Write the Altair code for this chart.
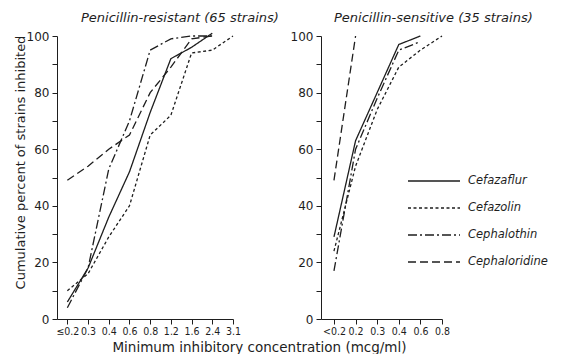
import json
import altair as alt
import pandas as pd

# ---------------- data ----------------
series = ["Cefazaflur", "Cefazolin", "Cephalothin", "Cephaloridine"]

left_ticks = ["≤0.2", "0.3", "0.4", "0.6", "0.8", "1.2", "1.6", "2.4", "3.1"]
right_ticks = ["<0.2", "0.2", "0.3", "0.4", "0.6", "0.8"]

left_cefazaflur = [6, 18, 36, 52, 73, 92, 96, 101]
left_cefazolin = [10, 16, 29, 40, 65, 72, 94, 95, 100]
left_cephalothin = [4, 18, 53, 70, 95, 99, 100, 100]
left_cephaloridine = [49, 54, 60, 65, 80, 89, 99, 100]

right_cefazaflur = [29, 63, 80, 97, 100]
right_cefazolin = [24, 54, 74, 89, 95, 100]
right_cephalothin = [17, 60, 78, 95, 98]
right_cephaloridine = [49, 100]

left_title = "Penicillin-resistant (65 strains)"
right_title = "Penicillin-sensitive (35 strains)"
y_title = "Cumulative percent of strains inhibited"
x_title = "Minimum inhibitory concentration (mcg/ml)"

# ---------------- styles ----------------
dash_styles = [[1, 0], [3, 2.5], [9, 3, 2, 3], [8, 4]]
FONT = "DejaVu Sans"
NARROW = "DejaVu Sans Condensed, Liberation Sans Narrow, DejaVu Sans"
INK = "#1e1e1e"


def long_frame(ticks, values_by_series):
    rows = []
    for name, vals in zip(series, values_by_series):
        for i, v in enumerate(vals):
            rows.append({"series": name, "idx": i, "label": ticks[i], "pct": v})
    return pd.DataFrame(rows)


left_df = long_frame(left_ticks, [left_cefazaflur, left_cefazolin,
                                  left_cephalothin, left_cephaloridine])
right_df = long_frame(right_ticks, [right_cefazaflur, right_cefazolin,
                                    right_cephalothin, right_cephaloridine])

dash_scale = alt.Scale(domain=series, range=dash_styles)


def y_axis(with_title):
    kw = dict(
        values=list(range(0, 101, 10)),
        labelExpr="datum.value % 20 == 0 ? datum.value : ''",
        tickSize=5, grid=False, labelFontSize=12, labelPadding=3,
        domainColor=INK, tickColor=INK, labelColor=INK, labelFont=FONT,
    )
    if with_title:
        kw.update(title=y_title, titleFont=FONT, titleFontSize=13,
                  titleFontWeight="normal", titleColor=INK, titleAngle=-90,
                  titleX=-37, titleY=126, titleAlign="center",
                  titleBaseline="middle")
    else:
        kw.update(title=None)
    return alt.Axis(**kw)


def x_axis(ticks, with_title):
    kw = dict(
        values=list(range(len(ticks))),
        labelExpr=json.dumps(ticks, ensure_ascii=False) + "[datum.value]",
        tickSize=5, grid=False, labelFontSize=10.5, labelPadding=2,
        labelFlush=False, labelOverlap=False,
        domainColor=INK, tickColor=INK, labelColor=INK, labelFont=NARROW,
    )
    if with_title:
        kw.update(title=x_title, titleFont=FONT, titleFontSize=13.5,
                  titleFontWeight="normal", titleColor=INK,
                  titleX=202, titleY=28, titleAlign="center",
                  titleBaseline="middle")
    else:
        kw.update(title=None)
    return alt.Axis(**kw)


def lines(df, ticks, lo, y_title_on, x_title_on):
    return alt.Chart(df).mark_line(color=INK, strokeWidth=1.3, clip=False).encode(
        x=alt.X("idx:Q", scale=alt.Scale(domain=[lo, len(ticks) - 1],
                                         nice=False, zero=False),
                axis=x_axis(ticks, x_title_on)),
        y=alt.Y("pct:Q", scale=alt.Scale(domain=[0, 100], nice=False),
                axis=y_axis(y_title_on)),
        strokeDash=alt.StrokeDash("series:N", scale=dash_scale, legend=None),
        detail="series:N",
        order="idx:Q",
    )


left = lines(left_df, left_ticks, -0.5, True, True).properties(
    width=176, height=283,
    title=alt.TitleParams(left_title, anchor="start", frame="group", dx=24,
                          offset=5, font=FONT, fontSize=13, fontStyle="italic",
                          fontWeight="normal", color=INK),
)

# manual legend drawn inside the right panel
leg_df = pd.DataFrame({"series": series, "rank": list(range(len(series)))})
leg_y = alt.Y("rank:O", scale=alt.Scale(type="point", range=[145, 226], padding=0),
              axis=None)
leg_rules = alt.Chart(leg_df).mark_rule(color=INK, strokeWidth=1.3).encode(
    x=alt.value(87), x2=alt.value(139), y=leg_y,
    strokeDash=alt.StrokeDash("series:N", scale=dash_scale, legend=None),
)
leg_text = alt.Chart(leg_df).mark_text(
    align="left", baseline="middle", font=FONT, fontSize=11.5,
    fontStyle="italic", color=INK,
).encode(x=alt.value(147), y=leg_y, text="series:N")

right = alt.layer(
    lines(right_df, right_ticks, -0.6, False, False), leg_rules, leg_text
).resolve_scale(y="independent").properties(
    width=121, height=283,
    title=alt.TitleParams(right_title, anchor="start", frame="group", dx=13,
                          offset=5, font=FONT, fontSize=13, fontStyle="italic",
                          fontWeight="normal", color=INK),
)

chart = alt.hconcat(left, right, spacing=88, bounds="flush").configure_view(
    stroke=None
).properties(
    padding={"left": 5, "top": 4, "right": 0, "bottom": 0},
    background="white",
)

chart.save("out.html", embed_options={"renderer": "svg", "actions": False})
